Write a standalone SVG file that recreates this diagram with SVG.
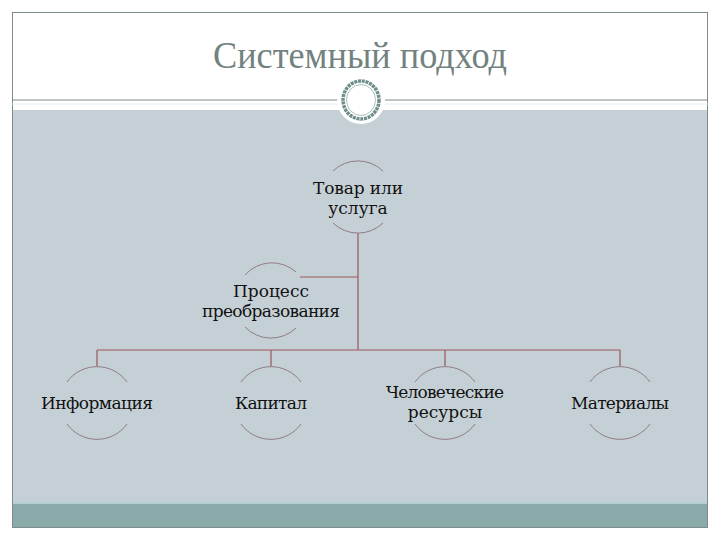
<svg xmlns="http://www.w3.org/2000/svg" width="720" height="540" viewBox="0 0 720 540">
<style>
.lbl{font-family:"DejaVu Serif","Liberation Serif",serif;font-size:17px;fill:#111;text-anchor:middle}
.title{font-family:"Liberation Serif","Times New Roman",serif;font-size:38px;fill:#71827f;text-anchor:middle}
.arc{fill:none;stroke:#8f7d84;stroke-width:1}
.con{fill:none;stroke:#9a5656;stroke-width:1.2}
</style>
<rect x="0" y="0" width="720" height="540" fill="#ffffff"/>
<rect x="12.5" y="110" width="695" height="392" fill="#c5d0d6"/>
<rect x="12.5" y="502" width="695" height="25" fill="#8aabaa"/>
<line x1="12.5" y1="503" x2="707.5" y2="503" stroke="#b4cfd1" stroke-width="2"/>
<rect x="12.5" y="12.5" width="695" height="515" fill="none" stroke="#7f8a8a" stroke-width="1"/>
<line x1="12" y1="100" x2="708" y2="100" stroke="#7f8a8a" stroke-width="1"/>
<line x1="12" y1="104" x2="708" y2="104" stroke="#e6eeee" stroke-width="1"/>
<text class="title" x="360" y="68" textLength="294" lengthAdjust="spacingAndGlyphs">Системный подход</text>
<g id="ornament">
<circle cx="361" cy="100" r="24" fill="#ffffff"/>
<ellipse cx="361" cy="100" rx="18" ry="19" fill="none" stroke="#6f8d8a" stroke-width="3.5" stroke-dasharray="3 0.8"/>
<ellipse cx="361" cy="100" rx="14.5" ry="15.5" fill="none" stroke="#a9bfbd" stroke-width="1"/>
</g>
<g id="connectors">
<path class="con" d="M358 233 V350"/>
<path class="con" d="M300 277 H358"/>
<path class="con" d="M97 350 H620"/>
<path class="con" d="M97 350 V366 M271 350 V366 M445 350 V366 M620 350 V366"/>
</g>
<g id="node-product">
<path class="arc" d="M333 171 A36 36 0 0 1 383 171"/>
<path class="arc" d="M333 223 A36 36 0 0 0 383 223"/>
<text class="lbl" x="358" y="194" textLength="90">Товар или</text>
<text class="lbl" x="358" y="214">услуга</text>
</g>
<g id="node-process">
<path class="arc" d="M245 275 A36 36 0 0 1 296 272"/>
<path class="arc" d="M245 327 A36 36 0 0 0 296 328"/>
<text class="lbl" x="271" y="297">Процесс</text>
<text class="lbl" x="271" y="317" textLength="138">преобразования</text>
</g>
<g id="node-info">
<path class="arc" d="M67 382 A37 37 0 0 1 127 382"/>
<path class="arc" d="M67 424 A37 37 0 0 0 127 424"/>
<text class="lbl" x="97" y="409" textLength="112">Информация</text>
</g>
<g id="node-capital">
<path class="arc" d="M241 382 A37 37 0 0 1 301 382"/>
<path class="arc" d="M241 424 A37 37 0 0 0 301 424"/>
<text class="lbl" x="271" y="409" textLength="72">Капитал</text>
</g>
<g id="node-human">
<path class="arc" d="M415 382 A37 37 0 0 1 475 382"/>
<path class="arc" d="M415 424 A37 37 0 0 0 475 424"/>
<text class="lbl" x="445" y="398" textLength="118">Человеческие</text>
<text class="lbl" x="445" y="418">ресурсы</text>
</g>
<g id="node-materials">
<path class="arc" d="M590 382 A37 37 0 0 1 650 382"/>
<path class="arc" d="M590 424 A37 37 0 0 0 650 424"/>
<text class="lbl" x="620" y="409" textLength="98">Материалы</text>
</g>
</svg>
